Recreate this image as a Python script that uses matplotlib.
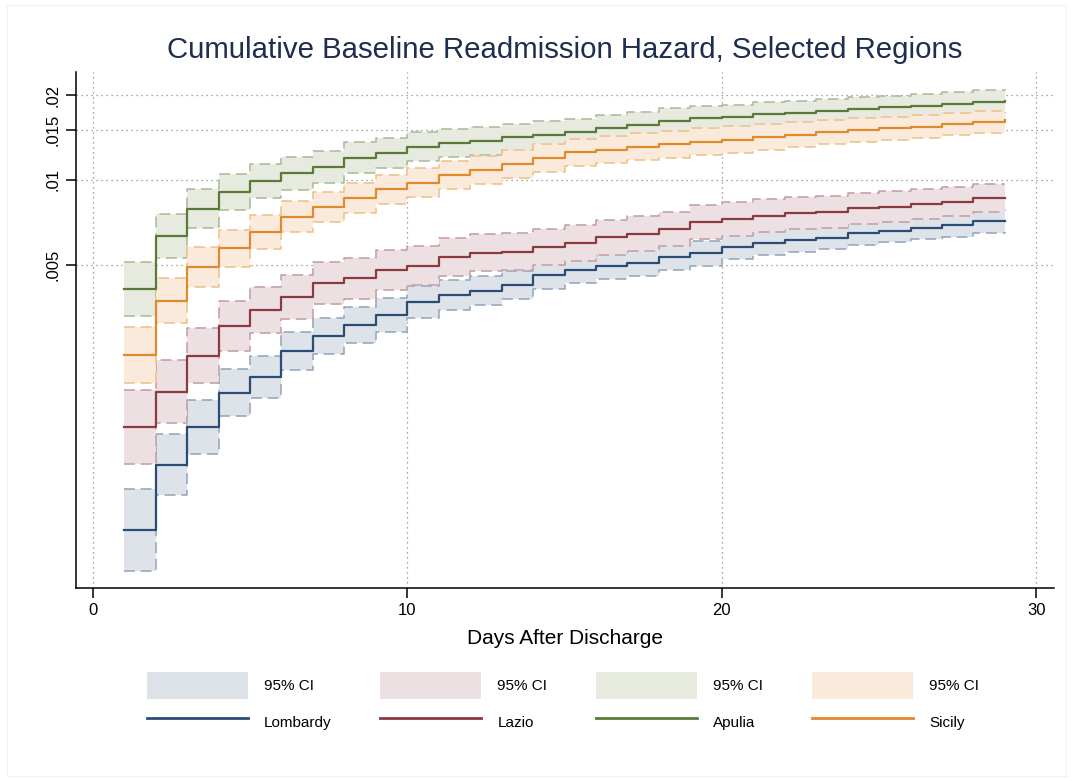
"""Cumulative baseline readmission hazard by region, Stata-style step plot."""
import matplotlib
matplotlib.use("Agg")
import matplotlib.pyplot as plt
from matplotlib.patches import Patch, Rectangle
from matplotlib.lines import Line2D
from matplotlib.ticker import FixedLocator, NullLocator, FixedFormatter

plt.rcParams["font.family"] = ["Liberation Sans", "DejaVu Sans"]

# ------------------------------------------------------------
# Data
# ------------------------------------------------------------
days = list(range(1, 30))

lombardy = [0.000574, 0.000978, 0.001331, 0.001762, 0.002007, 0.002476, 0.002798, 0.003062,
            0.003323, 0.003703, 0.003911, 0.004051, 0.004244, 0.004604, 0.004796, 0.004956,
            0.005091, 0.005321, 0.005496, 0.005773, 0.005964, 0.006128, 0.006244, 0.006471,
            0.006594, 0.006774, 0.006909, 0.007138, 0.007173]
lombardy_lo = [0.000411, 0.000760, 0.001068, 0.001460, 0.001690, 0.002122, 0.002416, 0.002644,
               0.002892, 0.003250, 0.003460, 0.003598, 0.003785, 0.004108, 0.004296, 0.004456,
               0.004578, 0.004805, 0.004964, 0.005234, 0.005407, 0.005555, 0.005684, 0.005892,
               0.006001, 0.006167, 0.006290, 0.006498, 0.006530]
lombardy_hi = [0.000802, 0.001260, 0.001660, 0.002127, 0.002383, 0.002892, 0.003242, 0.003546,
               0.003816, 0.004219, 0.004420, 0.004559, 0.004757, 0.005162, 0.005355, 0.005510,
               0.005661, 0.005892, 0.006088, 0.006367, 0.006578, 0.006758, 0.006858, 0.007109,
               0.007244, 0.007441, 0.007588, 0.007841, 0.007879]

lazio = [0.001335, 0.001776, 0.002377, 0.003037, 0.003446, 0.003838, 0.004303, 0.004482,
         0.004796, 0.004968, 0.005347, 0.005523, 0.005569, 0.005773, 0.005964, 0.006264,
         0.006435, 0.006703, 0.007069, 0.007244, 0.007453, 0.007620, 0.007720, 0.007937,
         0.008042, 0.008224, 0.008359, 0.008615, 0.008657]
lazio_lo = [0.000986, 0.001373, 0.001898, 0.002476, 0.002857, 0.003207, 0.003625, 0.003791,
            0.004074, 0.004237, 0.004578, 0.004750, 0.004788, 0.004984, 0.005150, 0.005430,
            0.005578, 0.005835, 0.006153, 0.006305, 0.006514, 0.006687, 0.006774, 0.006993,
            0.007086, 0.007273, 0.007423, 0.007682, 0.007720]
lazio_hi = [0.001805, 0.002298, 0.002975, 0.003725, 0.004158, 0.004593, 0.005108, 0.005299,
            0.005647, 0.005825, 0.006244, 0.006424, 0.006477, 0.006687, 0.006909, 0.007226,
            0.007423, 0.007701, 0.008123, 0.008325, 0.008529, 0.008686, 0.008800, 0.009008,
            0.009129, 0.009295, 0.009408, 0.009658, 0.009701]

apulia = [0.004118, 0.006331, 0.007892, 0.009091, 0.009919, 0.010562, 0.011100, 0.012000,
          0.012480, 0.013130, 0.013500, 0.013790, 0.014180, 0.014450, 0.014770, 0.015330,
          0.015680, 0.016190, 0.016530, 0.016770, 0.017100, 0.017240, 0.017620, 0.017860,
          0.018110, 0.018300, 0.018610, 0.018950, 0.019060]
apulia_lo = [0.003304, 0.005290, 0.006731, 0.007847, 0.008657, 0.009249, 0.009734, 0.010545,
             0.011030, 0.011670, 0.012040, 0.012300, 0.012700, 0.012940, 0.013280, 0.013790,
             0.014150, 0.014630, 0.014920, 0.015210, 0.015510, 0.015640, 0.015970, 0.016190,
             0.016490, 0.016660, 0.016930, 0.017260, 0.017360]
apulia_hi = [0.005133, 0.007576, 0.009257, 0.010528, 0.011380, 0.012070, 0.012650, 0.013660,
             0.014090, 0.014780, 0.015130, 0.015460, 0.015830, 0.016130, 0.016420, 0.017040,
             0.017360, 0.017930, 0.018300, 0.018500, 0.018860, 0.019010, 0.019430, 0.019700,
             0.019890, 0.020100, 0.020450, 0.020840, 0.020960]

sicily = [0.002396, 0.003734, 0.004928, 0.005726, 0.006525, 0.007411, 0.008002, 0.008615,
          0.009280, 0.009782, 0.010417, 0.010851, 0.011380, 0.012000, 0.012550, 0.012780,
          0.013130, 0.013390, 0.013650, 0.013870, 0.014250, 0.014450, 0.014770, 0.015000,
          0.015260, 0.015460, 0.015800, 0.016100, 0.016290]
sicily_lo = [0.001906, 0.003108, 0.004185, 0.004932, 0.005680, 0.006530, 0.007079, 0.007620,
             0.008244, 0.008693, 0.009295, 0.009679, 0.010140, 0.010700, 0.011240, 0.011450,
             0.011760, 0.011990, 0.012220, 0.012430, 0.012810, 0.013040, 0.013390, 0.013610,
             0.013890, 0.014070, 0.014450, 0.014720, 0.014890]
sicily_hi = [0.003011, 0.004485, 0.005800, 0.006649, 0.007496, 0.008413, 0.009046, 0.009734,
             0.010442, 0.011010, 0.011690, 0.012170, 0.012750, 0.013460, 0.014000, 0.014270,
             0.014660, 0.014950, 0.015230, 0.015490, 0.015840, 0.015990, 0.016290, 0.016560,
             0.016760, 0.016970, 0.017290, 0.017620, 0.017820]

regions = ["Lombardy", "Lazio", "Apulia", "Sicily"]
y_ticks = [0.005, 0.01, 0.015, 0.02]
y_tick_labels = [".005", ".01", ".015", ".02"]
x_ticks = [0, 10, 20, 30]

# Colours: (line, ci fill, ci dashed outline)
C_LINE = ["#2b4c74", "#8b3a3e", "#5a7a38", "#e08a2e"]
C_FILL = ["#dde3e9", "#ede0e3", "#e6eadf", "#faeadb"]
C_DASH = ["#98a9be", "#c6a1a8", "#aebd9f", "#efc38f"]
C_TITLE = "#1f2d4f"


def draw_ci(ax, x, lo, hi, fill, dash, z):
    ax.fill_between(x, lo, hi, step="post", facecolor=fill, edgecolor="none",
                    linewidth=0, zorder=z)
    for bound in (lo, hi):
        ax.step(x, bound, where="post", color=dash, lw=1.2,
                linestyle=(0, (6.5, 3.5)), zorder=z + 0.5)


fig = plt.figure(figsize=(10.73, 7.81), dpi=100)
fig.patch.set_facecolor("white")
fig.add_artist(Rectangle((7 / 1073, 5 / 781), 1059 / 1073, 771 / 781,
                         transform=fig.transFigure, facecolor="none",
                         edgecolor="#f0f2f2", lw=0.8))

ax = fig.add_axes([76 / 1073, 1 - 588 / 781, (1054 - 76) / 1073, (588 - 72) / 781])
ax.set_yscale("log")
ax.set_xlim(-0.53, 30.56)
ax.set_ylim(0.000357, 0.02415)

series = [
    (lombardy, lombardy_lo, lombardy_hi),
    (lazio, lazio_lo, lazio_hi),
    (apulia, apulia_lo, apulia_hi),
    (sicily, sicily_lo, sicily_hi),
]

# CI bands first (each one opaque, drawn over the previous), then the lines
for i, (_, lo, hi) in enumerate(series):
    draw_ci(ax, days, lo, hi, C_FILL[i], C_DASH[i], 2 + i)
for i, (mid, _, _) in enumerate(series):
    ax.step(days, mid, where="post", color=C_LINE[i], lw=1.6, zorder=10)

# Grid
for yv in y_ticks:
    ax.axhline(yv, color="#8a8a8a", lw=0.9, linestyle=(0, (1, 3)), zorder=1)
for xv in x_ticks:
    ax.axvline(xv, color="#8a8a8a", lw=0.9, linestyle=(0, (1, 3)), zorder=1)

# Axes styling
for side in ("top", "right"):
    ax.spines[side].set_visible(False)
for side in ("left", "bottom"):
    ax.spines[side].set_linewidth(1.1)
    ax.spines[side].set_color("black")

ax.yaxis.set_major_locator(FixedLocator(y_ticks))
ax.yaxis.set_major_formatter(FixedFormatter(y_tick_labels))
ax.yaxis.set_minor_locator(NullLocator())
ax.set_xticks(x_ticks)
ax.set_xticklabels([str(v) for v in x_ticks])
ax.tick_params(axis="both", which="major", length=7, width=1.1, labelsize=12,
               color="black", pad=4)
plt.setp(ax.get_yticklabels(), rotation=90, va="center")

ax.set_xlabel("Days After Discharge", fontsize=15, labelpad=8)

fig.text(565 / 1073, 1 - 50 / 781,
         "Cumulative Baseline Readmission Hazard, Selected Regions",
         ha="center", va="center", fontsize=21.2, color=C_TITLE)

# Legend: 4 columns, CI patch on top row, line on bottom row
handles, labels = [], []
for i, name in enumerate(regions):
    handles.append(Patch(facecolor=C_FILL[i], edgecolor="none"))
    labels.append("95% CI")
    handles.append(Line2D([0], [0], color=C_LINE[i], lw=2))
    labels.append(name)

fig.legend(handles, labels, ncol=4, loc="center",
           bbox_to_anchor=(563 / 1073, 1 - 704 / 781), frameon=False,
           fontsize=11, handlelength=6.6, handleheight=2.44, handletextpad=1.05,
           columnspacing=3.2, labelspacing=0.59)

fig.savefig("out.png", dpi=100, facecolor="white")
